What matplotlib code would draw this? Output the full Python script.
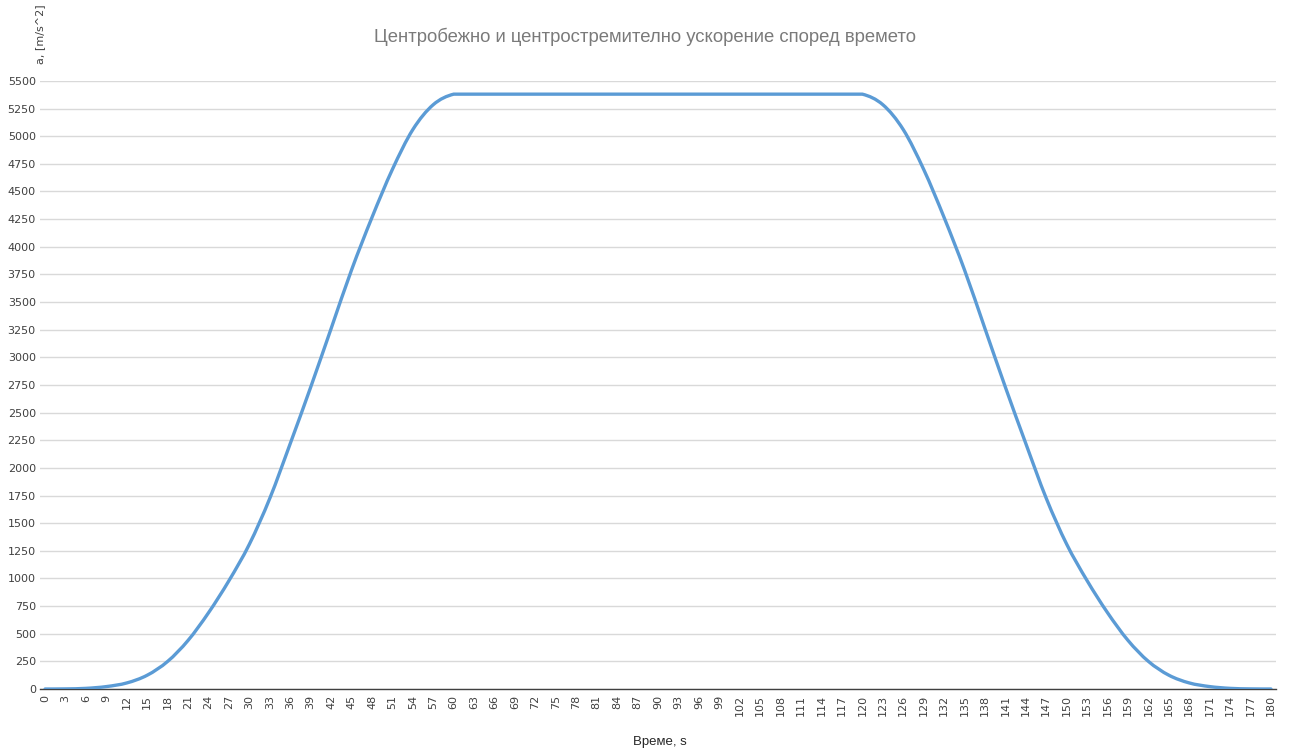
import matplotlib.pyplot as plt
from matplotlib.path import Path
from matplotlib.patches import PathPatch

# Time, s (points every 3 s)
time_s = list(range(0, 181, 3))

# Acceleration, m/s^2
rise = [0, 1, 6, 22, 55, 125, 250, 440, 690, 980, 1310, 1725, 2220, 2730,
        3260, 3790, 4265, 4700, 5060, 5285, 5380]
plateau = [5380] * 19  # 63 .. 117 s
fall = [5380, 5285, 5060, 4700, 4265, 3790, 3260, 2730, 2220, 1725, 1310,
        980, 690, 440, 250, 125, 55, 22, 6, 1, 0]
accel = rise + plateau + fall

y_ticks = list(range(0, 5501, 250))


# Excel-style smoothed line: Catmull-Rom segments drawn as cubic Beziers
# (control points kept inside each segment's y range, so no overshoot)
def smooth_path(xs, ys):
    pts = list(zip(xs, ys))
    n = len(pts)
    verts = [pts[0]]
    codes = [Path.MOVETO]
    for i in range(n - 1):
        p0 = pts[i - 1] if i > 0 else pts[i]
        p1 = pts[i]
        p2 = pts[i + 1]
        p3 = pts[i + 2] if i + 2 < n else pts[i + 1]
        lo, hi = min(p1[1], p2[1]), max(p1[1], p2[1])
        c1y = min(max(p1[1] + (p2[1] - p0[1]) / 6, lo), hi)
        c2y = min(max(p2[1] - (p3[1] - p1[1]) / 6, lo), hi)
        c1 = (p1[0] + (p2[0] - p0[0]) / 6, c1y)
        c2 = (p2[0] - (p3[0] - p1[0]) / 6, c2y)
        verts += [c1, c2, p2]
        codes += [Path.CURVE4] * 3
    return Path(verts, codes)


fig = plt.figure(figsize=(12.89, 7.56), dpi=100)
ax = fig.add_axes([0.031, 0.0886, 0.959, 0.8044])

ax.add_patch(PathPatch(smooth_path(time_s, accel), facecolor='none',
                       edgecolor='#5b9bd5', linewidth=2.4, capstyle='round', zorder=3))

ax.set_xlim(-0.75, 180.75)
ax.set_ylim(0, 5500)
ax.set_xticks(time_s)
ax.set_xticklabels([str(t) for t in time_s], rotation=90, fontsize=8, color='#404040')
ax.set_yticks(y_ticks)
ax.set_yticklabels([str(v) for v in y_ticks], fontsize=8, color='#404040')
ax.tick_params(axis='y', length=0, pad=3)
ax.tick_params(axis='x', length=0, pad=4)

ax.grid(axis='y', color='#d9d9d9', linewidth=1.0)
ax.set_axisbelow(True)
for side in ['top', 'right', 'left']:
    ax.spines[side].set_visible(False)
ax.spines['bottom'].set_color('#404040')
ax.spines['bottom'].set_linewidth(1.0)

fig.text(0.5, 0.951, 'Центробежно и центростремително ускорение според времето',
         ha='center', va='center', fontsize=13.3, color='#7a7a7a', family='Liberation Sans')
fig.text(0.031, 0.955, 'a, [m/s^2]', rotation=90, ha='center', va='center',
         fontsize=8, color='#404040')
fig.text(0.512, 0.018, 'Време, s', ha='center', va='center', fontsize=9.5,
         color='#262626', family='Liberation Sans')

fig.savefig('out.png', dpi=100)
